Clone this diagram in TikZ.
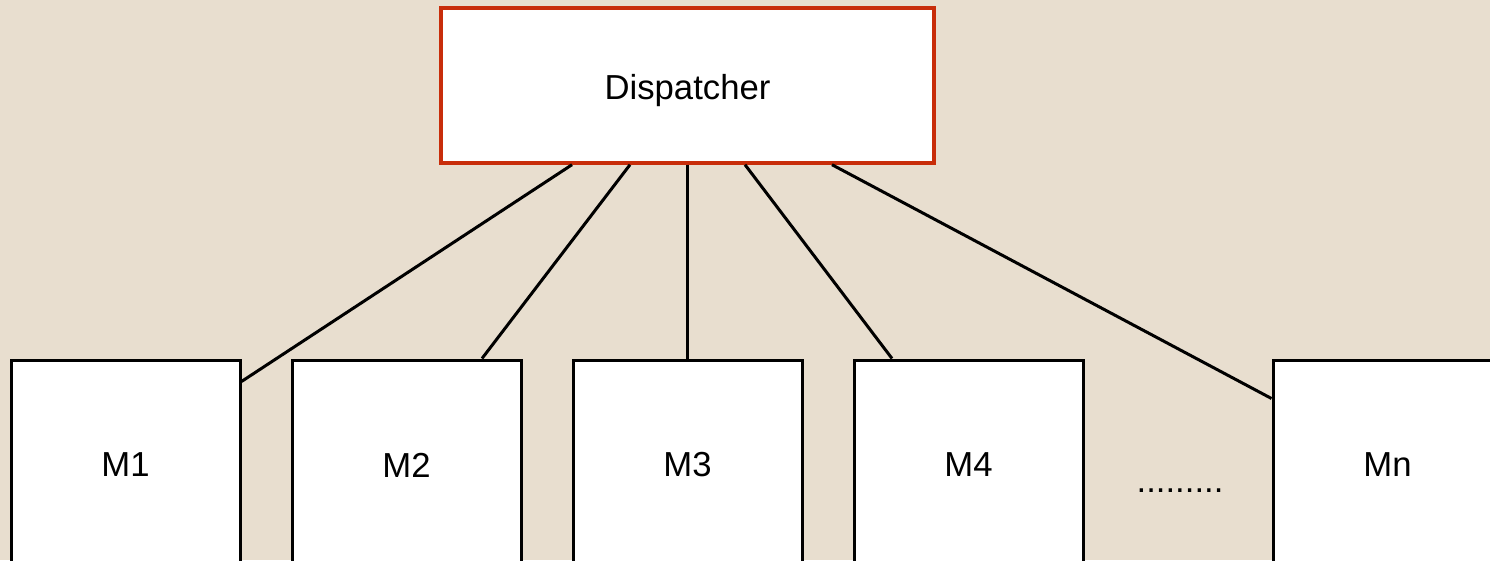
\documentclass[tikz,border=0pt]{standalone}
\usepackage{fontspec}
\setmainfont{Liberation Sans}
\usetikzlibrary{calc}
\definecolor{bgbeige}{RGB}{232,222,207}
\definecolor{dispred}{RGB}{200,45,10}
\tikzset{
  every node/.style={font=\fontsize{34.7}{40}\selectfont},
  mbox/.style={draw=black, line width=3pt, fill=white, minimum width=229pt, minimum height=210pt, inner sep=0pt},
  dbox/.style={draw=dispred, line width=3.4pt, fill=white, minimum width=493pt, minimum height=155pt, inner sep=0pt, text depth=0pt},
  link/.style={draw=black, line width=3pt}
}
\begin{document}
\begin{tikzpicture}[x=1pt, y=-1pt]
\useasboundingbox (0,0) rectangle (1490,560);
\fill[bgbeige] (0,0) rectangle (1490,560);
\clip (0,0) rectangle (1490,560);
\node[dbox] (D) at (687.5,85.5) {\raisebox{-2pt}{Dispatcher}};
\node[mbox] (M1) at (125.5,465) {M1};
\node[mbox] (M2) at (406.5,465) {M2};
\node[mbox] (M3) at (687.5,465) {M3};
\node[mbox] (M4) at (968.5,465) {M4};
\node[mbox] (Mn) at (1387.5,465) {Mn};
\node[anchor=base, inner sep=0pt] (dots) at (1180,492) {.........};
\draw[link] ([xshift=-115.5pt]D.south) -- ([yshift=-23pt]M1.north east);
\draw[link] ([xshift=-57.5pt]D.south) -- ([xshift=75.5pt]M2.north);
\draw[link] (D.south) -- (M3.north);
\draw[link] ([xshift=57.5pt]D.south) -- ([xshift=-76.5pt]M4.north);
\draw[link] ([xshift=144.5pt]D.south) -- ([yshift=-40pt]Mn.north west);
\end{tikzpicture}
\end{document}
